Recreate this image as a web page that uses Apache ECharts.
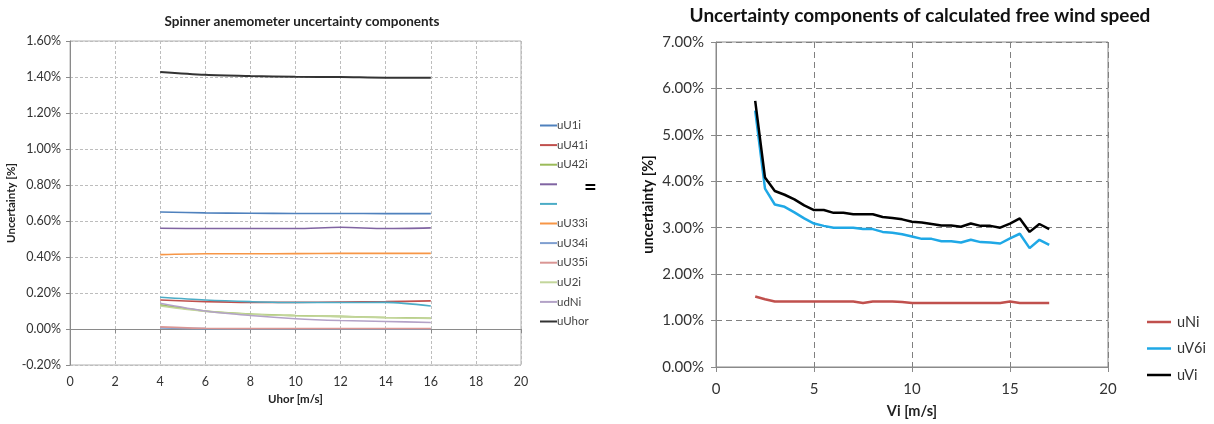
<!DOCTYPE html>
<html><head><meta charset="utf-8">
<script src="https://cdn.jsdelivr.net/npm/echarts@6/dist/echarts.min.js"></script>
<style>html,body{margin:0;padding:0;background:#fff}#c{width:1214px;height:424px}</style>
</head><body><div id="c"></div>
<script>
// ---- Left chart data ----
const leftTitle = 'Spinner anemometer uncertainty components';
const uhor = [4, 6, 8, 10, 12, 14, 16];
const uU1i  = [0.65, 0.645, 0.643, 0.642, 0.642, 0.641, 0.641];
const uU41i = [0.161, 0.152, 0.148, 0.148, 0.150, 0.152, 0.156];
const uU42i = [0.134, 0.100, 0.083, 0.075, 0.070, 0.064, 0.060];
const uU43i = [0.56, 0.558, 0.558, 0.558, 0.565, 0.558, 0.562];
const uU32i = [0.176, 0.161, 0.152, 0.147, 0.147, 0.148, 0.128];
const uU33i = [0.413, 0.418, 0.418, 0.419, 0.42, 0.42, 0.42];
const uU34i = [0.006, 0.002, 0.001, 0.001, 0.001, 0.001, 0.001];
const uU35i = [0.012, 0.004, 0.003, 0.003, 0.003, 0.003, 0.003];
const uU2i  = [0.128, 0.098, 0.082, 0.074, 0.069, 0.063, 0.059];
const udNi  = [0.143, 0.100, 0.075, 0.057, 0.047, 0.042, 0.036];
const uUhor = [1.428, 1.412, 1.405, 1.401, 1.400, 1.396, 1.396];

// ---- Right chart data ----
const rightTitle = 'Uncertainty components of calculated free wind speed';
const vi  = [2, 2.5, 3, 3.5, 4, 4.5, 5, 5.5, 6, 6.5, 7, 7.5, 8, 8.5, 9, 9.5, 10, 10.5, 11, 11.5, 12, 12.5, 13, 13.5, 14, 14.5, 15, 15.5, 16, 16.5, 17];
const uNi = [1.52, 1.46, 1.41, 1.41, 1.41, 1.41, 1.41, 1.41, 1.41, 1.41, 1.41, 1.38, 1.41, 1.41, 1.41, 1.40, 1.38, 1.38, 1.38, 1.38, 1.38, 1.38, 1.38, 1.38, 1.38, 1.38, 1.41, 1.38, 1.38, 1.38, 1.38];
const uV6i = [5.52, 3.84, 3.50, 3.45, 3.33, 3.20, 3.09, 3.04, 3.00, 3.00, 3.00, 2.97, 2.97, 2.91, 2.89, 2.86, 2.81, 2.76, 2.76, 2.71, 2.71, 2.68, 2.74, 2.69, 2.68, 2.66, 2.77, 2.87, 2.56, 2.74, 2.63];
const uVi  = [5.73, 4.08, 3.79, 3.71, 3.61, 3.48, 3.38, 3.38, 3.32, 3.32, 3.29, 3.29, 3.29, 3.23, 3.21, 3.18, 3.13, 3.11, 3.08, 3.05, 3.05, 3.02, 3.09, 3.04, 3.04, 3.00, 3.09, 3.20, 2.91, 3.08, 2.97];

const hiddenNames = ['uU43i', 'uU32i'];
const F = 'Lato, "Open Sans", sans-serif';
const pair = (xs, ys) => xs.map((x, i) => [x, ys[i]]);

const leftSeries = [
  ['uU1i', uU1i, '#4F81BD'], ['uU41i', uU41i, '#C0504D'], ['uU42i', uU42i, '#9BBB59'],
  ['uU43i', uU43i, '#8064A2'], ['uU32i', uU32i, '#4BACC6'], ['uU33i', uU33i, '#F79646'],
  ['uU34i', uU34i, '#7F9FD0'], ['uU35i', uU35i, '#DA9694'], ['uU2i', uU2i, '#C3D69B'],
  ['udNi', udNi, '#B3A2C7'], ['uUhor', uUhor, '#333333']
];
const rightSeries = [['uNi', uNi, '#C0504D'], ['uV6i', uV6i, '#1FA8E6'], ['uVi', uVi, '#000000']];

const series = [];
leftSeries.forEach(([n, d, c]) => series.push({
  name: n, type: 'line', xAxisIndex: 0, yAxisIndex: 0, data: pair(uhor, d),
  showSymbol: false, smooth: 0.3, lineStyle: { color: c, width: n === 'uUhor' ? 2 : 1.6 }, itemStyle: { color: c }, z: n === 'uUhor' ? 5 : 3
}));
rightSeries.forEach(([n, d, c]) => series.push({
  name: n, type: 'line', xAxisIndex: 1, yAxisIndex: 1, data: pair(vi, d),
  showSymbol: false, lineStyle: { color: c, width: 2.5 }, itemStyle: { color: c }
}));

const gridLeftSplit = { show: true, lineStyle: { color: '#bdbdbd', type: [3, 2], width: 1 } };
const gridRightSplit = { show: true, lineStyle: { color: '#808080', type: [6, 4], width: 1 } };
const axLine = { show: true, lineStyle: { color: '#8a8a8a', width: 1 } };

const option = {
  animation: false,
  backgroundColor: '#ffffff',
  title: [
    { text: leftTitle, left: 297, top: 10, textAlign: 'center', textStyle: { fontFamily: F, fontSize: 13.5, fontWeight: 'bold', color: '#222' } },
    { text: rightTitle, left: 915, top: 1, textAlign: 'center', textStyle: { fontFamily: F, fontSize: 19, fontWeight: 'bold', color: '#111' } }
  ],
  grid: [
    { left: 70, right: 693, top: 41, bottom: 59, show: true, borderColor: '#b0b0b0', borderWidth: 1, containLabel: false },
    { left: 716, right: 106, top: 42, bottom: 56, show: true, borderColor: '#8a8a8a', borderWidth: 1, containLabel: false }
  ],
  xAxis: [
    { type: 'value', gridIndex: 0, min: 0, max: 20, interval: 2, axisLine: axLine, axisTick: { show: true, length: 4, lineStyle: { color: '#8a8a8a' } },
      splitLine: gridLeftSplit, axisLabel: { fontFamily: F, fontSize: 12.5, color: '#333', margin: 10 },
      name: 'Uhor [m/s]', nameLocation: 'middle', nameGap: 25, nameTextStyle: { fontFamily: F, fontSize: 11.5, fontWeight: 'bold', color: '#222' } },
    { type: 'value', gridIndex: 1, min: 0, max: 20, interval: 5, axisLine: axLine, axisTick: { show: true, length: 5, lineStyle: { color: '#8a8a8a' } },
      splitLine: gridRightSplit, axisLabel: { fontFamily: F, fontSize: 15, color: '#333', margin: 15 },
      name: 'Vi [m/s]', nameLocation: 'middle', nameGap: 37, nameTextStyle: { fontFamily: F, fontSize: 14.5, fontWeight: 'bold', color: '#222' } }
  ],
  yAxis: [
    { type: 'value', gridIndex: 0, min: -0.2, max: 1.6, interval: 0.2, axisLine: axLine, axisTick: { show: true, length: 4, lineStyle: { color: '#8a8a8a' } },
      splitLine: gridLeftSplit, axisLabel: { fontFamily: F, fontSize: 12.5, color: '#333', margin: 9, formatter: v => v.toFixed(2) + '%' },
      name: 'Uncertainty [%]', nameLocation: 'middle', nameGap: 48, nameTextStyle: { fontFamily: F, fontSize: 11.5, fontWeight: 'bold', color: '#222' } },
    { type: 'value', gridIndex: 1, min: 0, max: 7, interval: 1, axisLine: axLine, axisTick: { show: true, length: 5, lineStyle: { color: '#8a8a8a' } },
      splitLine: gridRightSplit, axisLabel: { fontFamily: F, fontSize: 15, color: '#333', margin: 12, formatter: v => v.toFixed(2) + '%' },
      name: 'uncertainty [%]', nameLocation: 'middle', nameGap: 60, nameTextStyle: { fontFamily: F, fontSize: 14.5, fontWeight: 'bold', color: '#111' } }
  ],
  legend: [
    { data: leftSeries.map(s => s[0]), orient: 'vertical', left: 535, top: 114, itemWidth: 17, itemHeight: 2, itemGap: 6.6,
      icon: 'rect', formatter: n => hiddenNames.includes(n) ? ' ' : n,
      textStyle: { fontFamily: F, fontSize: 11.5, lineHeight: 13, color: '#444', padding: [0, 0, 0, -5] } },
    { data: rightSeries.map(s => s[0]), orient: 'vertical', left: 1142, top: 309, itemWidth: 24, itemHeight: 2.5, itemGap: 10.5,
      icon: 'rect', textStyle: { fontFamily: F, fontSize: 14.5, lineHeight: 16, color: '#333', padding: [0, 0, 0, 1] } }
  ],
  graphic: [
    { type: 'text', left: 584, top: 177, style: { text: '=', fontFamily: F, fontSize: 22, fontWeight: 'bold', fill: '#000' } }
  ],
  series
};
const chart = echarts.init(document.getElementById('c'), null, { renderer: 'canvas' });
chart.setOption(option);
</script></body></html>
